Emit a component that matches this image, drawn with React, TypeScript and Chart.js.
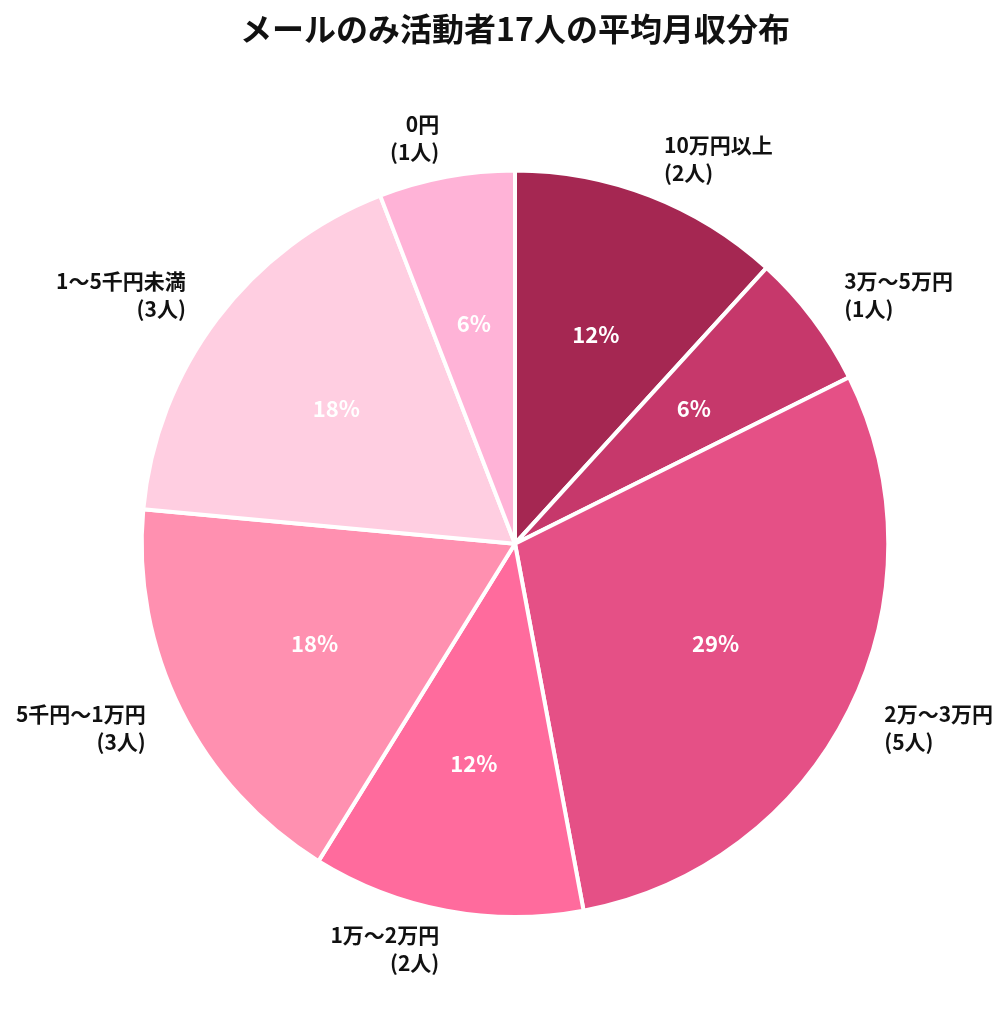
import React, { useEffect, useRef } from "react";
import { Chart, registerables } from "chart.js";

Chart.register(...registerables);

const title = "メールのみ活動者17人の平均月収分布";
const categories = ["10万円以上", "3万〜5万円", "2万〜3万円", "1万〜2万円", "5千円〜1万円", "1〜5千円未満", "0円"];
const counts = [2, 1, 5, 2, 3, 3, 1];
const colors = ["#A52752", "#C6386B", "#E55086", "#FF6B9D", "#FF90B0", "#FFCEE1", "#FFB3D7"];

const FONT = "'Noto Sans CJK JP', 'Noto Sans', sans-serif";

const labelPlugin = {
  id: "pieLabels",
  afterDatasetsDraw(chart: any) {
    const ctx = chart.ctx;
    const meta = chart.getDatasetMeta(0);
    const total = counts.reduce((a, b) => a + b, 0);
    meta.data.forEach((arc: any, i: number) => {
      const { x, y, startAngle, endAngle, outerRadius } = arc.getProps(
        ["x", "y", "startAngle", "endAngle", "outerRadius"],
        true
      );
      const mid = (startAngle + endAngle) / 2;
      const cos = Math.cos(mid);
      const sin = Math.sin(mid);
      // percent inside
      const pr = outerRadius * 0.6;
      ctx.save();
      ctx.fillStyle = "#ffffff";
      ctx.font = `bold 22px ${FONT}`;
      ctx.textAlign = "center";
      ctx.textBaseline = "middle";
      ctx.fillText(`${Math.round((counts[i] / total) * 100)}%`, x + cos * pr, y + sin * pr);
      // outside label
      const lr = outerRadius * 1.105;
      const lx = x + cos * lr;
      const ly = y + sin * lr;
      ctx.fillStyle = "#111111";
      ctx.font = `bold 21px ${FONT}`;
      ctx.textAlign = cos >= 0 ? "left" : "right";
      const lines = [categories[i], `(${counts[i]}人)`];
      const lh = 28;
      lines.forEach((t, k) => {
        ctx.fillText(t, lx, ly + (k - (lines.length - 1) / 2) * lh);
      });
      ctx.restore();
    });
  },
};

export default function App() {
  const ref = useRef<HTMLCanvasElement | null>(null);
  useEffect(() => {
    document.body.style.margin = "0";
    const chart = new Chart(ref.current as HTMLCanvasElement, {
      type: "pie",
      data: {
        labels: categories,
        datasets: [
          {
            data: counts,
            backgroundColor: colors,
            borderColor: "#ffffff",
            borderWidth: 4,
          },
        ],
      },
      options: {
        animation: false,
        responsive: false,
        layout: { padding: { left: 22, right: 0, top: 0, bottom: 105 } },
        plugins: {
          legend: { display: false },
          tooltip: { enabled: false },
          title: {
            display: true,
            text: title,
            color: "#111111",
            font: { family: FONT, size: 32, weight: "bold" },
            padding: { top: 10, bottom: 120 },
          },
        },
      },
      plugins: [labelPlugin],
    });
    return () => chart.destroy();
  }, []);
  return <canvas ref={ref} width={1008} height={1024} style={{ display: "block" }} />;
}
